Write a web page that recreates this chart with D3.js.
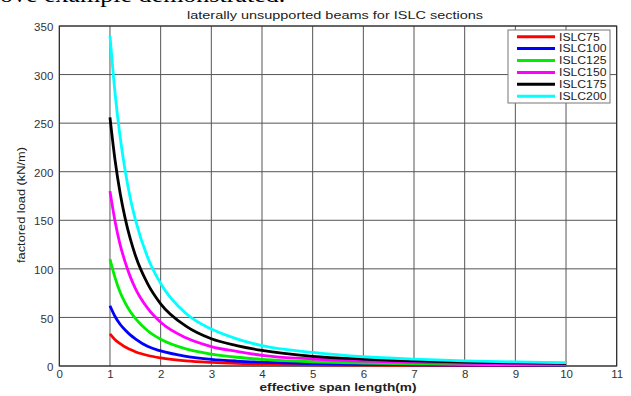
<!DOCTYPE html>
<html>
<head>
<meta charset="utf-8">
<script src="https://cdn.jsdelivr.net/npm/d3@7/dist/d3.min.js"></script>
<style>
body { margin:0; background:#fff; }
svg { display:block; font-family:"Liberation Sans", Arial, sans-serif; }
.tick text { fill:#333; font-size:10px; }
</style>
</head>
<body>
<svg></svg>
<script>
var spans = [1, 1.1, 1.2, 1.3, 1.4, 1.5, 1.75, 2, 2.5, 3, 3.5, 4, 5, 6, 7, 8, 9, 10]

//factored load (kN/m) for each section
var islc75  = [33, 27, 23, 19.5, 17, 14.7, 10.8, 8.3, 5.3, 3.7, 2.7, 2.1, 1.3, 0.9, 0.7, 0.5, 0.4, 0.3]
var islc100 = [62, 51, 43, 37, 32, 28, 20, 15.5, 10, 6.9, 5.1, 3.9, 2.5, 1.7, 1.3, 1, 0.8, 0.6]
var islc125 = [110, 91, 76, 65, 56, 49, 36, 27.5, 17.6, 12.2, 9, 6.9, 4.4, 3.1, 2.2, 1.7, 1.4, 1.1]
var islc150 = [180, 149, 125, 107, 92, 80, 59, 45, 29, 20, 15, 11, 7.2, 5, 3.7, 2.8, 2.2, 1.8]
var islc175 = [256, 212, 178, 152, 131, 114, 84, 64, 41, 28, 21, 16, 10, 7.1, 5.2, 4, 3.2, 2.6]
var islc200 = [340, 281, 236, 201, 173, 151, 111, 85, 54, 38, 28, 21, 14, 9.5, 7, 5.3, 4.2, 3.4]

var sectionNames = ["ISLC75", "ISLC100", "ISLC125", "ISLC150", "ISLC175", "ISLC200"]
var sectionColors = ["#ff0000", "#0000ff", "#00ee00", "#ff00ff", "#000000", "#00ffff"]
var xTicks = [0,1,2,3,4,5,6,7,8,9,10,11]
var yTicks = [0,50,100,150,200,250,300,350]

var screen = {width:631, height:396}
var margins = {left:59.3, right:14.3, top:26, bottom:30}
var graph = {
    width:screen.width-margins.left-margins.right,
    height:screen.height-margins.top-margins.bottom
}

//the picture is stretched sideways, so widen the text the same way
var stretch = function(sel, factor)
{
    sel.each(function()
    {
        var len = this.getComputedTextLength()
        d3.select(this)
            .attr("textLength", len*factor)
            .attr("lengthAdjust", "spacingAndGlyphs")
    })
}

var svg = d3.select("svg")
    .attr("width", screen.width)
    .attr("height", screen.height)

//cut off line of the document above the figure
svg.append("text")
    .text("ove example demonstrated.")
    .attr("x", 0)
    .attr("y", 1.5)
    .style("font-family", "'Liberation Serif', serif")
    .style("font-size", "20px")
    .attr("fill", "#000")
    .call(stretch, 1.3)

var xScale = d3.scaleLinear().domain([0,11]).range([0,graph.width])
var yScale = d3.scaleLinear().domain([0,350]).range([graph.height,0])

var target = svg.append("g")
    .attr("transform", "translate("+margins.left+","+margins.top+")")

//grid
target.append("g")
    .selectAll("line")
    .data(xTicks)
    .enter()
    .append("line")
    .attr("x1", function(d){return xScale(d)})
    .attr("x2", function(d){return xScale(d)})
    .attr("y1", 0)
    .attr("y2", graph.height)
    .attr("stroke", "#555")
    .attr("stroke-width", 1)

target.append("g")
    .selectAll("line")
    .data(yTicks)
    .enter()
    .append("line")
    .attr("y1", function(d){return yScale(d)})
    .attr("y2", function(d){return yScale(d)})
    .attr("x1", 0)
    .attr("x2", graph.width)
    .attr("stroke", "#555")
    .attr("stroke-width", 1)

//axes
var xAxis = d3.axisBottom(xScale).tickValues(xTicks).tickSize(0).tickPadding(5)
var yAxis = d3.axisLeft(yScale).tickValues(yTicks).tickSize(0).tickPadding(6)

target.append("g")
    .attr("transform", "translate(0,"+graph.height+")")
    .call(xAxis)
    .call(function(g){g.select(".domain").remove()})
    .selectAll("text").call(stretch, 1.15)

target.append("g")
    .attr("transform", "translate(0,1.5)")
    .call(yAxis)
    .call(function(g){g.select(".domain").remove()})
    .selectAll("text").call(stretch, 1.15)

target.append("rect")
    .attr("width", graph.width)
    .attr("height", graph.height)
    .attr("fill", "none")
    .attr("stroke", "#222")
    .attr("stroke-width", 1)

//curves
var series = [islc75, islc100, islc125, islc150, islc175, islc200]
var line = d3.line()
    .x(function(d,i){return xScale(spans[i])})
    .y(function(d){return yScale(d)})
    .curve(d3.curveMonotoneX)

target.append("g")
    .selectAll("path")
    .data(series)
    .enter()
    .append("path")
    .attr("d", line)
    .attr("fill", "none")
    .attr("stroke", function(d,i){return sectionColors[i]})
    .attr("stroke-width", 2.8)

//labels
svg.append("text")
    .text("laterally unsupported beams for ISLC sections")
    .attr("text-anchor", "middle")
    .attr("x", 335)
    .attr("y", 19)
    .style("font-size", "11px")
    .attr("fill", "#222")
    .attr("textLength", 296)
    .attr("lengthAdjust", "spacingAndGlyphs")

svg.append("text")
    .text("effective span length(m)")
    .attr("text-anchor", "middle")
    .attr("x", 338)
    .attr("y", 391)
    .style("font-size", "10.5px")
    .style("font-weight", "bold")
    .attr("fill", "#222")
    .attr("textLength", 157)
    .attr("lengthAdjust", "spacingAndGlyphs")

svg.append("g")
    .attr("transform", "translate(25,205)")
    .append("text")
    .text("factored load (kN/m)")
    .style("font-size", "11px")
    .attr("fill", "#222")
    .attr("text-anchor", "middle")
    .attr("transform", "rotate(270)")
    .attr("textLength", 116)
    .attr("lengthAdjust", "spacingAndGlyphs")

//legend
var legend = svg.append("g")
    .attr("transform", "translate(508,30)")

legend.append("rect")
    .attr("width", 102)
    .attr("height", 73)
    .attr("fill", "#fff")
    .attr("stroke", "#777")

var entries = legend.selectAll("g.entry")
    .data(sectionNames)
    .enter()
    .append("g")
    .attr("class", "entry")
    .attr("transform", function(d,i){return "translate(0,"+(6.7+i*11.9)+")"})

entries.append("line")
    .attr("x1", 9)
    .attr("x2", 47)
    .attr("stroke", function(d,i){return sectionColors[i]})
    .attr("stroke-width", 3)

entries.append("text")
    .text(function(d){return d})
    .attr("x", 51)
    .attr("y", 3.8)
    .style("font-size", "10px")
    .attr("fill", "#222")
    .call(stretch, 1.22)
</script>
</body>
</html>
